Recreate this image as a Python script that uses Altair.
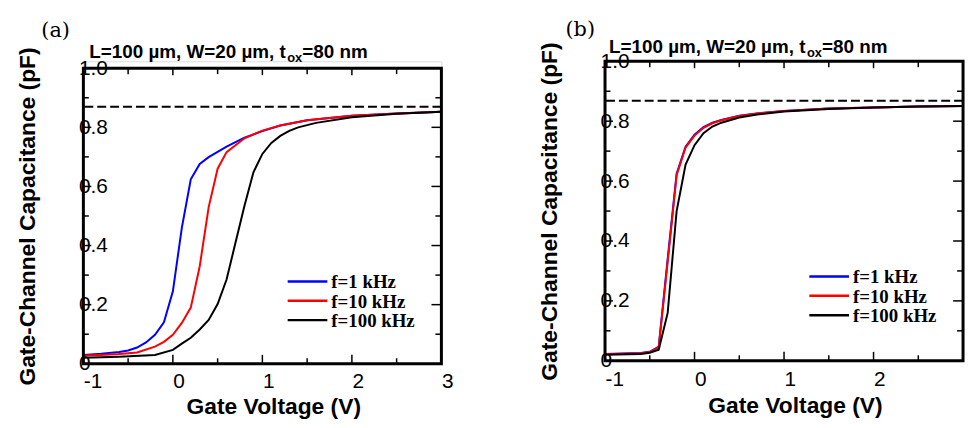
import altair as alt
import pandas as pd

# ---------------- data ----------------
SERIES = ["f=1 kHz", "f=10 kHz", "f=100 kHz"]
COLORS = ["#0000ff", "#ff0000", "#000000"]

# Panel (a)
A_V_1K = [-1.0, -0.8, -0.6, -0.5, -0.4, -0.3, -0.2, -0.1, 0.0, 0.1, 0.2, 0.3, 0.4, 0.6, 0.8, 1.0, 1.2, 1.5, 2.0, 2.5, 3.0]
A_C_1K = [0.030, 0.034, 0.040, 0.045, 0.055, 0.072, 0.098, 0.140, 0.245, 0.460, 0.624, 0.676, 0.699, 0.735, 0.765, 0.787, 0.806, 0.824, 0.839, 0.847, 0.853]

A_V_10K = [-1.0, -0.8, -0.6, -0.4, -0.2, -0.1, 0.0, 0.1, 0.2, 0.3, 0.4, 0.5, 0.6, 0.8, 1.0, 1.2, 1.5, 2.0, 2.5, 3.0]
A_C_10K = [0.028, 0.030, 0.033, 0.038, 0.058, 0.074, 0.098, 0.138, 0.190, 0.330, 0.530, 0.660, 0.716, 0.763, 0.789, 0.806, 0.824, 0.839, 0.847, 0.853]

A_V_100K = [-1.0, -0.6, -0.2, 0.0, 0.1, 0.2, 0.3, 0.4, 0.5, 0.6, 0.7, 0.8, 0.9, 1.0, 1.1, 1.2, 1.3, 1.4, 1.6, 2.0, 2.5, 3.0]
A_C_100K = [0.020, 0.024, 0.030, 0.047, 0.068, 0.088, 0.116, 0.148, 0.202, 0.285, 0.410, 0.535, 0.648, 0.710, 0.747, 0.771, 0.788, 0.800, 0.815, 0.834, 0.846, 0.853]

A_COX = 0.87

# Panel (b)
B_V = [-1.0, -0.6, -0.5, -0.4, -0.3, -0.2, -0.1, 0.0, 0.1, 0.2, 0.3, 0.5, 0.7, 1.0, 1.5, 2.0, 2.5, 3.0]
B_C_1K = [0.023, 0.026, 0.030, 0.047, 0.340, 0.625, 0.715, 0.755, 0.780, 0.795, 0.804, 0.818, 0.826, 0.834, 0.842, 0.846, 0.849, 0.851]
B_C_10K = [0.022, 0.025, 0.029, 0.045, 0.330, 0.620, 0.712, 0.752, 0.778, 0.793, 0.803, 0.817, 0.826, 0.834, 0.842, 0.846, 0.849, 0.851]
B_C_100K = [0.020, 0.023, 0.027, 0.037, 0.160, 0.500, 0.655, 0.720, 0.760, 0.782, 0.795, 0.812, 0.822, 0.832, 0.841, 0.846, 0.849, 0.851]

B_COX = 0.868

X_TICKS = [-1, 0, 1, 2, 3]
X_MINOR = [-0.5, 0.5, 1.5, 2.5]
Y_TICKS = [0.0, 0.2, 0.4, 0.6, 0.8, 1.0]
Y_MINOR = [0.1, 0.3, 0.5, 0.7, 0.9]

SUB_MAIN = "L=100 \u00b5m, W=20 \u00b5m, t"
SUB_SUB = "ox"
SUB_END = "=80 nm"
X_TITLE = "Gate Voltage (V)"
Y_TITLE = "Gate-Channel Capacitance (pF)"

W = 361
SANS = "Liberation Sans"
SERIF = "Liberation Serif"

one = pd.DataFrame({"k": [0]})


def panel(curves, cox, letter, letter_xy, sub_xy, leg_y0, off, H, x_label_values, lab_pad, title_y):
    VH = H + off
    top, bot = off, off + H
    xs = alt.Scale(domain=[-1, 3], nice=False, zero=False)
    ys = alt.Scale(domain=[0, 1], nice=False, zero=False, range=[bot, top])
    xaxis = alt.Axis(
        values=x_label_values, title=X_TITLE, grid=False, domain=False, ticks=False, tickSize=0,
        labelExpr="datum.value < 0 ? '-' + format(-datum.value, 'd') : format(datum.value, 'd')",
        labelFont=SANS, labelFontSize=21, labelColor="black", labelAlign="left",
        labelBaseline="alphabetic", labelPadding=lab_pad, labelFlush=False, labelOverlap=False,
        titleFont=SANS, titleFontSize=23, titleFontWeight="bold", titleColor="black",
        titleX=W / 2 + 11, titleY=title_y, titleBaseline="alphabetic",
    )
    yaxis = alt.Axis(
        values=Y_TICKS, title=Y_TITLE, grid=False, domain=False, ticks=False, tickSize=0,
        labelExpr="datum.value == 0 ? '0' : format(datum.value, '.1f')",
        labelFont=SANS, labelFontSize=21, labelColor="black", labelAlign="left",
        labelBaseline="middle", labelPadding=5, labelFlush=False, labelOverlap=False,
        titleFont=SANS, titleFontSize=23, titleFontWeight="bold", titleColor="black",
        titleX=-49, titleY=off + H / 2, titleBaseline="alphabetic",
    )

    def X(field):
        return alt.X(field, type="quantitative", scale=xs, axis=xaxis)

    def Y(field):
        return alt.Y(field, type="quantitative", scale=ys, axis=yaxis)

    layers = []
    # dashed oxide-capacitance line
    layers.append(
        alt.Chart(pd.DataFrame({"C": [cox]}))
        .mark_rule(color="black", strokeWidth=2, strokeDash=[9, 4])
        .encode(y=Y("C"))
    )
    # curves
    for (vv, cc), name, color in zip(curves, SERIES, COLORS):
        df = pd.DataFrame({"V": vv, "C": cc})
        layers.append(
            alt.Chart(df).mark_line(color=color, strokeWidth=2).encode(x=X("V"), y=Y("C"))
        )
    # inner ticks (major / minor on all four sides)
    xmaj = pd.DataFrame({"V": X_TICKS})
    xmin = pd.DataFrame({"V": X_MINOR})
    ymaj = pd.DataFrame({"C": Y_TICKS})
    ymin = pd.DataFrame({"C": Y_MINOR})
    for df, blen, tlen in [(xmaj, 9, 7), (xmin, 5.5, 6)]:
        layers.append(alt.Chart(df).mark_rule(color="black", strokeWidth=1.5)
                      .encode(x=X("V"), y=alt.value(bot), y2=alt.value(bot - blen)))
        layers.append(alt.Chart(df).mark_rule(color="black", strokeWidth=1.5)
                      .encode(x=X("V"), y=alt.value(top), y2=alt.value(top + tlen)))
    for df, llen, rlen in [(ymaj, 8, 10), (ymin, 5.5, 6)]:
        layers.append(alt.Chart(df).mark_rule(color="black", strokeWidth=1.5)
                      .encode(y=Y("C"), x=alt.value(0), x2=alt.value(llen)))
        layers.append(alt.Chart(df).mark_rule(color="black", strokeWidth=1.5)
                      .encode(y=Y("C"), x=alt.value(W), x2=alt.value(W - rlen)))
    # frame
    layers.append(alt.Chart(one).mark_rect(fill="transparent", stroke="black", strokeWidth=3)
                  .encode(x=alt.value(0), x2=alt.value(W), y=alt.value(top), y2=alt.value(bot)))
    # panel letter
    layers.append(alt.Chart(one).mark_text(text=letter, font="DejaVu Serif", fontSize=21, color="black",
                                           align="center", baseline="middle")
                  .encode(x=alt.value(letter_xy[0]), y=alt.value(letter_xy[1])))
    # subtitle with subscript
    sx, sy = sub_xy
    w_main = 10.504 * 19
    w_sub = 1.167 * 13
    layers.append(alt.Chart(one).mark_text(text=SUB_MAIN, font=SANS, fontSize=19, fontWeight="bold",
                                           color="black", align="left", baseline="alphabetic")
                  .encode(x=alt.value(sx), y=alt.value(sy)))
    layers.append(alt.Chart(one).mark_text(text=SUB_SUB, font=SANS, fontSize=13, fontWeight="bold",
                                           color="black", align="left", baseline="alphabetic")
                  .encode(x=alt.value(sx + w_main), y=alt.value(sy + 4)))
    layers.append(alt.Chart(one).mark_text(text=SUB_END, font=SANS, fontSize=19, fontWeight="bold",
                                           color="black", align="left", baseline="alphabetic")
                  .encode(x=alt.value(sx + w_main + w_sub), y=alt.value(sy)))
    # legend
    for i, (name, color) in enumerate(zip(SERIES, COLORS)):
        yy = leg_y0 + i * 19.5
        layers.append(alt.Chart(one).mark_rule(color=color, strokeWidth=2.5)
                      .encode(x=alt.value(206), x2=alt.value(246), y=alt.value(yy)))
        layers.append(alt.Chart(one).mark_text(text=name, font=SERIF, fontSize=19, fontWeight="bold",
                                               color="black", align="left", baseline="middle")
                      .encode(x=alt.value(250), y=alt.value(yy + 1)))
    return alt.layer(*layers).properties(width=W, height=VH)


pa = panel([(A_V_1K, A_C_1K), (A_V_10K, A_C_10K), (A_V_100K, A_C_100K)], A_COX,
           "(a)", (-28, -30.5), (6, -3), 222, 7, 298, X_TICKS, 24, 50)
pb = panel([(B_V, B_C_1K), (B_V, B_C_10K), (B_V, B_C_100K)], B_COX,
           "(b)", (-25, -31.5), (4, -8), 217, 0, 302, X_TICKS[:-1], 25, 52)

chart = (
    alt.hconcat(pa, pb, spacing=84, bounds="full")
    .properties(padding={"left": 8, "top": 9, "right": 0, "bottom": 0})
    .configure_view(stroke="transparent")
    .configure(background="white")
)

chart.save("out.html", embed_options={"renderer": "svg", "actions": False})
